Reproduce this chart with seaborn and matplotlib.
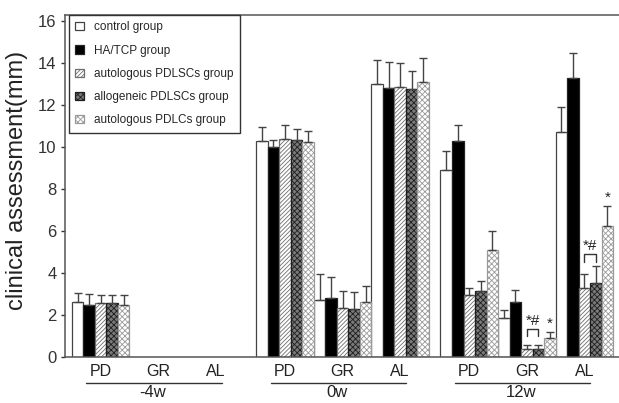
import numpy as np
import pandas as pd
import matplotlib
matplotlib.use("Agg")
import matplotlib.pyplot as plt
import matplotlib.transforms as mtransforms
import seaborn as sns

# ---------------------------------------------------------------
# data (mm)
# ---------------------------------------------------------------
timepoints = ["-4w", "0w", "12w"]
sites = ["PD", "GR", "AL"]

# bars that exist in the figure (-4w GR / AL have no bars)
bar_time = ["-4w", "0w", "0w", "0w", "12w", "12w", "12w"]
bar_site = ["PD", "PD", "GR", "AL", "PD", "GR", "AL"]

groups = ["control group", "HA/TCP group", "autologous PDLSCs group",
          "allogeneic PDLSCs group", "autologous PDLCs group"]

control      = [2.6, 10.3, 2.7, 13.0, 8.9, 1.85, 10.7]
control_sd   = [0.45, 0.65, 1.25, 1.15, 0.9, 0.4, 1.2]
hatcp        = [2.5, 10.0, 2.8, 12.8, 10.3, 2.6, 13.3]
hatcp_sd     = [0.5, 0.35, 1.0, 1.25, 0.75, 0.6, 1.2]
auto_pdlsc   = [2.55, 10.4, 2.35, 12.85, 2.95, 0.4, 3.3]
auto_pdlsc_sd = [0.4, 0.65, 0.8, 1.15, 0.35, 0.15, 0.65]
allo_pdlsc   = [2.55, 10.35, 2.3, 12.75, 3.15, 0.4, 3.55]
allo_pdlsc_sd = [0.4, 0.5, 0.8, 0.9, 0.45, 0.15, 0.8]
auto_pdlc    = [2.5, 10.25, 2.6, 13.1, 5.1, 0.9, 6.25]
auto_pdlc_sd = [0.45, 0.5, 0.8, 1.15, 0.9, 0.3, 0.95]

means = [control, hatcp, auto_pdlsc, allo_pdlsc, auto_pdlc]
sds = [control_sd, hatcp_sd, auto_pdlsc_sd, allo_pdlsc_sd, auto_pdlc_sd]

# significance marks at 12w
sig_site = [("12w", "GR"), ("12w", "AL")]
sig_bracket = [1.35, 4.9]

# ---------------------------------------------------------------
# long table, numeric x so the time points get a one-bar gap
# ---------------------------------------------------------------
def xpos(t, s):
    return timepoints.index(t) * 3.2 + sites.index(s)

rows = []
for g, m, e in zip(groups, means, sds):
    for t, s, v, sd in zip(bar_time, bar_site, m, e):
        rows.append({"group": g, "pos": xpos(t, s), "value": v, "sd": sd})
df = pd.DataFrame(rows)

faces = {groups[0]: "white", groups[1]: "black", groups[2]: "white",
         groups[3]: "#7a7a7a", groups[4]: "white"}
edges = ["#444444", "#222222", "#6e6e6e", "#1e1e1e", "#9a9a9a"]
hatches = [None, None, "////////", "xxxxxx", "xxxxxx"]

sns.set_theme(style="ticks")
plt.rcParams["font.family"] = ["Liberation Sans", "DejaVu Sans"]
plt.rcParams["hatch.linewidth"] = 0.6

fig = plt.figure(figsize=(6.19, 4.03), dpi=100)
ax = fig.add_axes([65 / 619, 1 - 357 / 403, 554 / 619, 342 / 403])

sns.barplot(data=df, x="pos", y="value", hue="group", hue_order=groups,
            palette=faces, native_scale=True, width=1.0, errorbar=None,
            saturation=1, legend=False, ax=ax)

bar_containers = list(ax.containers)
centers = {}
for h, (g, cont) in enumerate(zip(groups, bar_containers)):
    sub = df[df["group"] == g].reset_index(drop=True)
    for p in cont:
        p.set_facecolor(faces[g])
        p.set_edgecolor(edges[h])
        p.set_linewidth(0.9)
        if hatches[h]:
            p.set_hatch(hatches[h])
        cx = p.get_x() + p.get_width() / 2
        row = sub.iloc[(sub["pos"] - cx).abs().argmin()]
        centers[(h, round(row["pos"], 1))] = (cx, row["value"] + row["sd"])
        ax.errorbar(cx, p.get_height(), yerr=[[0], [row["sd"]]], fmt="none",
                    ecolor="#444444", elinewidth=1, capsize=3, capthick=1)

# brackets and stars
for (t, s), yb in zip(sig_site, sig_bracket):
    key = round(xpos(t, s), 1)
    x1 = centers[(2, key)][0]
    x2 = centers[(3, key)][0]
    ax.plot([x1, x1, x2, x2], [yb - 0.35, yb, yb, yb - 0.35],
            color="#333333", lw=1)
    ax.text((x1 + x2) / 2, yb + 0.05, "*#", ha="center", va="bottom",
            fontsize=11, color="#222222")
    xs, ys = centers[(4, key)]
    ax.text(xs, ys + 0.05, "*", ha="center", va="bottom", fontsize=11,
            color="#222222")

# axes
ax.set_xlim(-0.62, 9.0)
ax.set_ylim(0, 16.3)
ax.set_yticks(np.arange(0, 17, 2))
ax.set_xticks([xpos(t, s) for t in timepoints for s in sites])
ax.set_xticklabels(sites * len(timepoints))
ax.tick_params(axis="x", length=0, pad=5, labelsize=11.5, colors="#222222")
ax.tick_params(axis="y", length=3, width=1, pad=3, labelsize=12,
               colors="#333333")
ax.set_xlabel("")
ax.set_ylabel("clinical assessment(mm)", fontsize=17, color="#222222")
ax.yaxis.set_label_coords(-0.066, 0.515)
ax.spines["right"].set_visible(False)
for sp in ["left", "bottom", "top"]:
    ax.spines[sp].set_color("#555555")
    ax.spines[sp].set_linewidth(1.1)

# underline + time point label under each block
trans = mtransforms.blended_transform_factory(ax.transData, ax.transAxes)
for i, t in enumerate(timepoints):
    x0 = i * 3.2
    ax.plot([x0 - 0.25, x0 + 2.1], [-0.075, -0.075], color="#333333",
            lw=1, transform=trans, clip_on=False)
    ax.text(x0 + 0.9, -0.082, t, transform=trans, ha="center", va="top",
            fontsize=12, color="#222222")

leg = ax.legend(bar_containers, groups, loc="upper left",
                bbox_to_anchor=(0.007, 1.0), borderaxespad=0,
                fontsize=8.5, handlelength=0.7, handleheight=0.7,
                handletextpad=0.9, labelspacing=0.95, borderpad=0.55,
                frameon=True, fancybox=False, framealpha=1)
leg.get_frame().set_edgecolor("#333333")
leg.get_frame().set_linewidth(1)

fig.savefig("out.png", dpi=100)
